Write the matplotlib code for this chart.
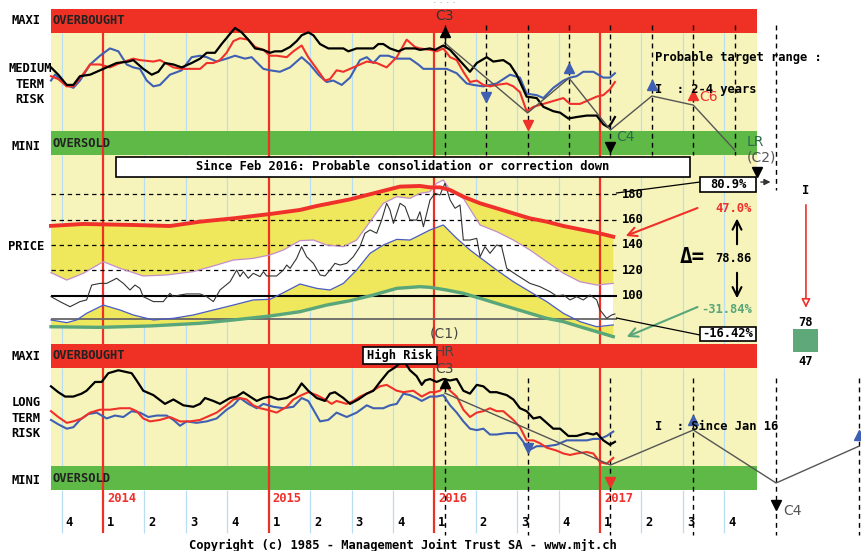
import matplotlib
matplotlib.use("Agg")
import matplotlib.pyplot as plt
import numpy as np
from matplotlib.patches import Rectangle

# ------------------------------------------------------------------
# data  (time in decimal years)
# risk panels: 0 = bottom of OVERSOLD band, 100 = top of OVERBOUGHT band
# ------------------------------------------------------------------
mt_black = np.array([
    (2013.686, 60), (2013.730, 55), (2013.781, 48), (2013.821, 48), (2013.861, 54), (2013.922, 55),
    (2014.002, 59), (2014.082, 63), (2014.153, 64), (2014.183, 65), (2014.243, 59), (2014.294, 55),
    (2014.334, 57), (2014.374, 63), (2014.425, 62), (2014.475, 60), (2014.535, 63), (2014.586, 66),
    (2014.626, 70), (2014.676, 70), (2014.716, 76), (2014.767, 83), (2014.797, 87), (2014.837, 84),
    (2014.877, 79), (2014.918, 73), (2014.968, 72), (2015.008, 70), (2015.038, 71), (2015.078, 71),
    (2015.129, 74), (2015.169, 78), (2015.199, 82), (2015.239, 84), (2015.270, 82), (2015.310, 76),
    (2015.360, 73), (2015.451, 73), (2015.481, 71), (2015.531, 73), (2015.632, 73), (2015.662, 76),
    (2015.692, 76), (2015.732, 73), (2015.783, 71), (2015.823, 73), (2015.883, 73), (2015.913, 72),
    (2015.974, 73), (2016.004, 72), (2016.054, 75), (2016.095, 72), (2016.175, 62), (2016.215, 57),
    (2016.256, 63), (2016.316, 67), (2016.356, 64), (2016.416, 65), (2016.457, 62), (2016.497, 55),
    (2016.557, 40), (2016.618, 39), (2016.658, 33), (2016.718, 30), (2016.759, 29), (2016.809, 25),
    (2016.859, 26), (2016.920, 27), (2016.980, 27), (2017.020, 21), (2017.050, 19), (2017.070, 22),
    (2017.090, 26)])

mt_red = np.array([
    (2013.686, 54), (2013.730, 52), (2013.781, 47), (2013.821, 47), (2013.871, 54), (2013.922, 62),
    (2013.982, 62), (2014.042, 60), (2014.103, 63), (2014.183, 66), (2014.223, 65), (2014.304, 64),
    (2014.344, 65), (2014.425, 60), (2014.475, 59), (2014.535, 59), (2014.586, 59), (2014.626, 63),
    (2014.666, 63), (2014.706, 65), (2014.746, 70), (2014.787, 78), (2014.827, 80), (2014.877, 79),
    (2014.918, 74), (2014.968, 72), (2015.008, 68), (2015.048, 68), (2015.109, 67), (2015.149, 71),
    (2015.199, 75), (2015.239, 67), (2015.290, 59), (2015.340, 51), (2015.370, 52), (2015.410, 58),
    (2015.451, 57), (2015.511, 60), (2015.592, 64), (2015.652, 63), (2015.712, 60), (2015.773, 67),
    (2015.833, 79), (2015.883, 74), (2015.913, 73), (2015.974, 72), (2016.014, 71), (2016.054, 73),
    (2016.095, 67), (2016.135, 65), (2016.175, 57), (2016.215, 50), (2016.256, 51), (2016.296, 48),
    (2016.336, 47), (2016.376, 48), (2016.437, 49), (2016.477, 47), (2016.517, 43), (2016.557, 30),
    (2016.598, 33), (2016.658, 35), (2016.718, 37), (2016.779, 39), (2016.819, 35), (2016.879, 35),
    (2016.940, 38), (2016.980, 40), (2017.020, 41), (2017.060, 45), (2017.090, 50)])

mt_blue = np.array([
    (2013.686, 51), (2013.710, 55), (2013.781, 48), (2013.821, 46), (2013.861, 51), (2013.922, 62),
    (2013.982, 68), (2014.042, 73), (2014.093, 71), (2014.143, 62), (2014.183, 60), (2014.223, 59),
    (2014.264, 51), (2014.304, 47), (2014.344, 48), (2014.404, 55), (2014.475, 58), (2014.535, 67),
    (2014.586, 68), (2014.626, 67), (2014.686, 64), (2014.746, 66), (2014.797, 68), (2014.857, 66),
    (2014.897, 67), (2014.968, 59), (2015.008, 58), (2015.068, 57), (2015.129, 60), (2015.199, 67),
    (2015.249, 62), (2015.300, 55), (2015.350, 50), (2015.390, 51), (2015.441, 48), (2015.491, 53),
    (2015.551, 65), (2015.592, 67), (2015.632, 63), (2015.672, 68), (2015.722, 68), (2015.773, 66),
    (2015.853, 66), (2015.903, 62), (2015.934, 59), (2015.974, 59), (2016.074, 59), (2016.135, 56),
    (2016.195, 49), (2016.235, 48), (2016.296, 47), (2016.336, 48), (2016.376, 49), (2016.457, 55),
    (2016.517, 53), (2016.557, 42), (2016.618, 41), (2016.658, 39), (2016.718, 46), (2016.779, 51),
    (2016.819, 53), (2016.859, 54), (2016.899, 57), (2016.960, 57), (2017.020, 53), (2017.060, 53),
    (2017.090, 56)])

lt_black = np.array([
    (2013.686, 71), (2013.730, 67), (2013.771, 64), (2013.821, 64), (2013.871, 66), (2013.901, 68),
    (2013.952, 74), (2013.992, 74), (2014.032, 80), (2014.093, 82), (2014.133, 81), (2014.173, 80),
    (2014.203, 75), (2014.243, 68), (2014.304, 65), (2014.374, 59), (2014.425, 62), (2014.485, 58),
    (2014.545, 57), (2014.586, 59), (2014.616, 63), (2014.666, 61), (2014.706, 59), (2014.767, 63),
    (2014.807, 64), (2014.847, 67), (2014.887, 64), (2014.928, 61), (2014.968, 63), (2015.008, 64),
    (2015.058, 62), (2015.109, 63), (2015.159, 66), (2015.199, 73), (2015.239, 68), (2015.290, 63),
    (2015.340, 61), (2015.370, 66), (2015.400, 67), (2015.451, 63), (2015.491, 59), (2015.541, 62),
    (2015.592, 66), (2015.632, 68), (2015.672, 74), (2015.722, 81), (2015.763, 84), (2015.793, 87),
    (2015.813, 89), (2015.853, 82), (2015.893, 78), (2015.924, 72), (2015.944, 75), (2015.974, 76),
    (2016.014, 74), (2016.054, 76), (2016.095, 75), (2016.135, 76), (2016.175, 68), (2016.215, 66),
    (2016.256, 72), (2016.296, 71), (2016.336, 67), (2016.376, 67), (2016.437, 65), (2016.477, 62),
    (2016.517, 56), (2016.557, 54), (2016.598, 49), (2016.638, 50), (2016.678, 46), (2016.718, 42),
    (2016.759, 42), (2016.809, 37), (2016.859, 37), (2016.920, 39), (2016.960, 38), (2016.980, 39),
    (2017.020, 34), (2017.060, 31), (2017.090, 33)])

lt_red = np.array([
    (2013.686, 54), (2013.730, 50), (2013.781, 46), (2013.821, 47), (2013.871, 49), (2013.922, 53),
    (2013.982, 55), (2014.042, 55), (2014.103, 56), (2014.163, 56), (2014.203, 54), (2014.243, 49),
    (2014.284, 47), (2014.344, 48), (2014.404, 50), (2014.465, 47), (2014.525, 47), (2014.586, 48),
    (2014.626, 50), (2014.686, 53), (2014.746, 58), (2014.787, 62), (2014.827, 63), (2014.867, 62),
    (2014.907, 58), (2014.948, 56), (2014.988, 55), (2015.048, 53), (2015.109, 57), (2015.149, 62),
    (2015.199, 65), (2015.239, 67), (2015.290, 65), (2015.340, 62), (2015.380, 59), (2015.410, 61),
    (2015.471, 59), (2015.511, 61), (2015.551, 64), (2015.612, 67), (2015.672, 71), (2015.712, 72),
    (2015.773, 68), (2015.813, 67), (2015.873, 68), (2015.924, 64), (2015.974, 67), (2016.004, 67),
    (2016.034, 68), (2016.064, 72), (2016.095, 68), (2016.135, 64), (2016.175, 55), (2016.215, 50),
    (2016.256, 53), (2016.296, 54), (2016.336, 56), (2016.376, 54), (2016.416, 54), (2016.477, 48),
    (2016.517, 43), (2016.557, 34), (2016.598, 34), (2016.638, 32), (2016.678, 29), (2016.738, 27),
    (2016.779, 25), (2016.819, 24), (2016.859, 25), (2016.920, 26), (2016.960, 25), (2017.000, 19),
    (2017.040, 18), (2017.080, 22)])

lt_blue = np.array([
    (2013.686, 48), (2013.730, 45), (2013.781, 42), (2013.821, 43), (2013.861, 48), (2013.911, 52),
    (2013.962, 53), (2014.022, 49), (2014.072, 51), (2014.123, 50), (2014.173, 54), (2014.223, 53),
    (2014.274, 50), (2014.324, 51), (2014.384, 51), (2014.425, 48), (2014.465, 44), (2014.505, 47),
    (2014.565, 46), (2014.626, 47), (2014.686, 49), (2014.746, 55), (2014.787, 58), (2014.827, 63),
    (2014.877, 59), (2014.928, 56), (2014.968, 59), (2015.028, 57), (2015.089, 56), (2015.149, 57),
    (2015.199, 63), (2015.239, 61), (2015.270, 55), (2015.310, 47), (2015.360, 48), (2015.410, 53),
    (2015.471, 50), (2015.531, 53), (2015.592, 58), (2015.632, 56), (2015.692, 56), (2015.732, 58),
    (2015.773, 59), (2015.813, 66), (2015.853, 65), (2015.893, 63), (2015.924, 61), (2015.974, 64),
    (2016.014, 64), (2016.054, 65), (2016.095, 58), (2016.135, 53), (2016.175, 47), (2016.215, 42),
    (2016.256, 41), (2016.296, 42), (2016.336, 38), (2016.376, 38), (2016.437, 39), (2016.497, 39),
    (2016.537, 33), (2016.567, 27), (2016.618, 30), (2016.678, 30), (2016.738, 31), (2016.799, 34),
    (2016.859, 34), (2016.920, 34), (2016.960, 35), (2017.000, 35), (2017.040, 37), (2017.080, 40)])

# price panel
price = np.array([
    (2013.686, 99.5), (2013.740, 95.6), (2013.801, 91.6), (2013.861, 95.6), (2013.901, 96.9),
    (2013.932, 108.6), (2013.982, 109.9), (2014.022, 109.9), (2014.062, 112.5), (2014.082, 113.9),
    (2014.123, 109.9), (2014.163, 104.7), (2014.193, 108.6), (2014.223, 106.0), (2014.243, 99.5),
    (2014.304, 95.6), (2014.364, 95.6), (2014.404, 102.1), (2014.425, 99.5), (2014.465, 100.8),
    (2014.505, 101.6), (2014.586, 101.6), (2014.626, 99.5), (2014.666, 95.6), (2014.706, 104.7),
    (2014.767, 111.2), (2014.807, 120.4), (2014.827, 115.2), (2014.847, 119.1), (2014.877, 113.9),
    (2014.907, 117.8), (2014.948, 115.2), (2014.968, 119.1), (2014.988, 115.7), (2015.048, 115.7),
    (2015.089, 120.4), (2015.109, 124.3), (2015.129, 121.7), (2015.169, 129.5), (2015.199, 138.7),
    (2015.229, 130.8), (2015.270, 125.6), (2015.310, 116.5), (2015.340, 115.7), (2015.370, 120.4),
    (2015.400, 125.6), (2015.431, 124.3), (2015.471, 125.6), (2015.511, 130.8), (2015.551, 138.7),
    (2015.581, 149.2), (2015.612, 151.8), (2015.652, 149.2), (2015.682, 159.6), (2015.712, 172.7),
    (2015.732, 167.5), (2015.753, 157.0), (2015.773, 164.8), (2015.793, 172.7), (2015.823, 170.1),
    (2015.853, 159.6), (2015.893, 159.6), (2015.913, 166.1), (2015.934, 154.4), (2015.964, 170.1),
    (2015.974, 175.3), (2016.004, 180.5), (2016.034, 179.2), (2016.064, 188.4), (2016.095, 175.3),
    (2016.125, 168.8), (2016.155, 171.4), (2016.175, 143.9), (2016.215, 143.9), (2016.256, 145.2),
    (2016.276, 130.8), (2016.306, 138.7), (2016.336, 133.5), (2016.376, 140.0), (2016.406, 138.7),
    (2016.437, 121.7), (2016.497, 116.5), (2016.577, 109.9), (2016.638, 107.3), (2016.698, 103.4),
    (2016.738, 100.0), (2016.779, 100.8), (2016.819, 96.9), (2016.859, 99.5), (2016.899, 96.9),
    (2016.940, 100.8), (2016.980, 96.9), (2017.000, 89.0), (2017.040, 82.5), (2017.070, 85.1),
    (2017.090, 85.9)])

band_top = np.array([
    (2013.686, 155.0), (2013.881, 156.5), (2014.183, 155.7), (2014.404, 154.9), (2014.586, 158.3),
    (2014.787, 160.9), (2015.008, 164.3), (2015.189, 167.5), (2015.290, 170.6), (2015.491, 175.8),
    (2015.672, 181.8), (2015.793, 185.8), (2015.913, 186.3), (2015.974, 185.2), (2016.034, 185.2),
    (2016.095, 183.1), (2016.175, 177.9), (2016.276, 172.7), (2016.376, 168.8), (2016.477, 164.8),
    (2016.577, 160.9), (2016.678, 158.3), (2016.779, 154.9), (2016.879, 152.3), (2016.980, 149.7),
    (2017.080, 146.5)])

band_upper = np.array([
    (2013.686, 118.3), (2013.781, 112.5), (2013.881, 117.8), (2014.002, 126.9), (2014.103, 121.7),
    (2014.243, 115.7), (2014.384, 116.5), (2014.545, 119.1), (2014.686, 124.3), (2014.787, 128.2),
    (2014.907, 129.5), (2015.008, 132.2), (2015.089, 136.1), (2015.189, 143.4), (2015.270, 143.9),
    (2015.350, 140.0), (2015.451, 138.7), (2015.531, 143.9), (2015.612, 158.3), (2015.692, 172.7),
    (2015.773, 177.9), (2015.853, 176.6), (2015.913, 180.5), (2015.974, 181.8), (2016.014, 188.4),
    (2016.054, 191.0), (2016.095, 183.1), (2016.175, 176.6), (2016.276, 155.7), (2016.376, 150.5),
    (2016.477, 143.9), (2016.577, 136.1), (2016.678, 126.9), (2016.779, 117.8), (2016.879, 111.2),
    (2016.980, 108.6), (2017.080, 109.9)])

band_lower = np.array([
    (2013.686, 81.2), (2013.781, 79.1), (2013.841, 81.2), (2013.901, 86.4), (2014.002, 92.9),
    (2014.103, 89.0), (2014.183, 85.1), (2014.304, 81.2), (2014.425, 82.5), (2014.545, 85.1),
    (2014.666, 89.0), (2014.787, 92.9), (2014.907, 96.9), (2015.008, 97.4), (2015.089, 102.6),
    (2015.189, 109.4), (2015.290, 106.0), (2015.370, 104.7), (2015.451, 109.9), (2015.531, 120.4),
    (2015.612, 133.5), (2015.692, 140.0), (2015.773, 144.4), (2015.853, 143.9), (2015.913, 147.8),
    (2015.974, 151.8), (2016.054, 155.7), (2016.135, 145.2), (2016.215, 136.1), (2016.296, 128.2),
    (2016.376, 120.4), (2016.477, 111.2), (2016.577, 103.4), (2016.678, 95.6), (2016.779, 86.4),
    (2016.879, 79.9), (2016.980, 75.9), (2017.080, 77.3)])

band_bottom = np.array([
    (2013.686, 75.9), (2013.982, 75.4), (2014.284, 76.5), (2014.586, 78.6), (2014.787, 81.2),
    (2015.008, 84.3), (2015.189, 87.7), (2015.350, 92.9), (2015.491, 96.3), (2015.632, 100.8),
    (2015.773, 106.0), (2015.913, 107.3), (2015.974, 106.8), (2016.074, 104.7), (2016.175, 102.1),
    (2016.276, 98.2), (2016.376, 94.2), (2016.477, 90.3), (2016.577, 86.4), (2016.678, 82.5),
    (2016.779, 79.9), (2016.879, 75.9), (2016.980, 72.0), (2017.080, 68.1)])

price_levels = [180, 160, 140, 120]
price_ref = 100
price_low = 82

# cycle projections (time, level)
mt_cycle = np.array([(2016.063, 76.7), (2016.563, 28.8), (2016.813, 52.7), (2017.063, 17.1),
                     (2017.313, 40.4), (2017.563, 34.2), (2017.813, 3.4)])
lt_cycle = np.array([(2016.063, 66.4), (2017.063, 17.1), (2017.563, 41.1), (2018.063, 4.8),
                     (2018.563, 30.0)])

years = [2014, 2015, 2016, 2017]
quarters = np.arange(2013.75, 2017.76, 0.25)
quarter_labels = ["4", "1", "2", "3", "4", "1", "2", "3", "4", "1", "2", "3", "4", "1", "2", "3", "4"]

# ------------------------------------------------------------------
RED = "#ee3124"
BG = "#f6f4ba"
GREEN = "#5fb946"
FILL = "#efe75c"
LBLUE = "#b9ddf3"
BLUE = "#3f5fb2"
LRED = "#f0302a"
TEAL = "#58a67a"
GRAY = "#555555"
MONO = "DejaVu Sans Mono"
SANS = "DejaVu Sans"

plt.rcParams["font.family"] = MONO
plt.rcParams["font.weight"] = "bold"
plt.rcParams["font.size"] = 8.7

W, H = 862, 551
X_START, X_END = 2013.686, 2017.948
XLIM = (2014 - 103 / 165.67, 2014 + (W - 103) / 165.67)

fig = plt.figure(figsize=(W / 100, H / 100), dpi=100)


def panel(top, bottom, z):
    ax = fig.add_axes([0, 1 - bottom / H, 1, (bottom - top) / H])
    ax.set_xlim(*XLIM)
    ax.set_axis_off()
    ax.set_zorder(z)
    return ax


def risk_panel(ax):
    ax.set_ylim(0, 100)
    ax.fill_between([X_START, X_END], 0, 100, color=BG, lw=0, zorder=0)
    ax.vlines([q for q in quarters if q % 1], 16.4, 83.6, color=LBLUE, lw=0.9, zorder=1)
    ax.fill_between([X_START, X_END], 83.6, 100, color=RED, lw=0, zorder=2)
    ax.fill_between([X_START, X_END], 0, 16.4, color=GREEN, lw=0, zorder=2)
    ax.vlines(years, 0, 100, color=RED, lw=1.6, zorder=3)
    ax.text(2013.698, 91.8, "OVERBOUGHT", ha="left", va="center", color="#222222", zorder=4)
    ax.text(2013.698, 8.2, "OVERSOLD", ha="left", va="center", color="#222222", zorder=4)


def tri(ax, x, y, m, c):
    ax.plot(x, y, marker=m, ms=7.5, color=c, ls="none", zorder=7, clip_on=False)


def gtext(ax, x, y, s, c="#444444", ha="center", size=10):
    ax.text(x, y, s, ha=ha, va="center", color=c, family=SANS, weight="normal",
            fontsize=size, zorder=8)


dash = (0, (3.5, 3))

# ------------------------- medium term risk -------------------------
ax1 = panel(9, 155, 4)
risk_panel(ax1)
for k in range(9):
    lo = -24 if k == 8 else 0
    ax1.plot([2016.063 + 0.25 * k] * 2, [89, lo], color="black", lw=1.0, ls=dash,
             zorder=4, clip_on=False)
ax1.plot(mt_blue[:, 0], mt_blue[:, 1], color=BLUE, lw=1.5, zorder=5)
ax1.plot(mt_red[:, 0], mt_red[:, 1], color=LRED, lw=1.5, zorder=5)
ax1.plot(mt_black[:, 0], mt_black[:, 1], color="black", lw=1.6, zorder=5)
ax1.plot(mt_cycle[:, 0], mt_cycle[:, 1], color=GRAY, lw=1.0, zorder=6, clip_on=False)
ax1.plot([2016.063, 2016.063], [84, 77], color="black", lw=1.0, zorder=6)
tri(ax1, 2016.063, 84.2, "^", "black")
tri(ax1, 2016.313, 39.9, "v", BLUE)
tri(ax1, 2016.563, 20.5, "v", LRED)
tri(ax1, 2016.813, 59.4, "^", BLUE)
tri(ax1, 2017.063, 5.7, "v", "black")
tri(ax1, 2017.313, 47.9, "^", BLUE)
tri(ax1, 2017.563, 41.1, "^", LRED)
tri(ax1, 2017.948, -11.6, "v", "black")
gtext(ax1, 2016.063, 95.2, "C3", "#333333")
ax1.text(2016.060, 104.2, "- - - -", ha="center", va="center", color="#777777",
         fontsize=4, weight="normal")
gtext(ax1, 2017.100, 12.3, "C4", "#2f6a4e", ha="left")
gtext(ax1, 2017.598, 39.7, "C6", LRED, ha="left")
gtext(ax1, 2017.887, 8.9, "LR", "#2f6a4e", ha="left")
gtext(ax1, 2017.887, -2.0, "(C2)", "#555555", ha="left")
ax1.annotate("", xy=(2018.046, -18.5), xytext=(2017.954, -18.5), annotation_clip=False,
             arrowprops=dict(arrowstyle="-|>", color="#333333", lw=1.0, mutation_scale=9))
ax1.text(2017.332, 67.1, "Probable target range :", ha="left", va="center", zorder=8)
ax1.text(2017.332, 45.0, "I  : 2-4 years", ha="left", va="center", zorder=8)

# ------------------------------ price ------------------------------
ax2 = panel(155, 344, 3)
ax2.set_ylim(62.35, 210.59)
ax2.fill_between([X_START, X_END], 62.35, 210.59, color=BG, lw=0, zorder=0)
ax2.vlines([q for q in quarters if q % 1], 62.35, 210.59, color=LBLUE, lw=0.9, zorder=1)
ax2.fill(np.r_[band_top[:, 0], band_bottom[::-1, 0]], np.r_[band_top[:, 1], band_bottom[::-1, 1]],
         color=FILL, lw=0, zorder=2)
ax2.fill(np.r_[band_upper[:, 0], band_lower[::-1, 0]], np.r_[band_upper[:, 1], band_lower[::-1, 1]],
         color="white", lw=0, zorder=2)
ax2.vlines(years, 62.35, 210.59, color=RED, lw=1.6, zorder=3)
ax2.hlines(price_levels, X_START, 2017.10, color="black", lw=0.9, linestyles=[dash], zorder=4)
ax2.hlines(price_ref, X_START, 2017.10, color="black", lw=1.5, zorder=4)
ax2.hlines(price_low, X_START, 2017.10, color="#666666", lw=1.3, zorder=4)
ax2.plot(band_upper[:, 0], band_upper[:, 1], color="#c48ccc", lw=0.9, zorder=5)
ax2.plot(band_lower[:, 0], band_lower[:, 1], color="#4a5cc4", lw=0.9, zorder=5)
ax2.plot(price[:, 0], price[:, 1], color="#333333", lw=0.8, zorder=5)
ax2.plot(band_top[:, 0], band_top[:, 1], color=LRED, lw=2.8, zorder=6)
ax2.plot(band_bottom[:, 0], band_bottom[:, 1], color=TEAL, lw=2.4, zorder=6)
for lv in price_levels + [price_ref]:
    ax2.text(2017.133, lv, str(lv), ha="left", va="center", zorder=8)

ax2.add_patch(Rectangle((2014.078, 193.3), 3.465, 15.7, fc="white", ec="black", lw=1.2,
                        zorder=9, clip_on=False))
ax2.text(2015.811, 201.2, "Since Feb 2016: Probable consolidation or correction down",
         ha="center", va="center", zorder=10)

ax2.add_patch(Rectangle((2017.604, 181.6), 0.338, 11.7, fc="white", ec="black", lw=1.2,
                        zorder=9, clip_on=False))
ax2.text(2017.773, 187.4, "80.9%", ha="center", va="center", zorder=10)
ax2.plot([2017.10, 2017.604], [180.8, 189.4], color="black", lw=0.9, zorder=8, clip_on=False)
ax2.add_patch(Rectangle((2017.604, 64.9), 0.338, 11.0, fc="white", ec="black", lw=1.2,
                        zorder=9, clip_on=False))
ax2.text(2017.773, 70.4, "-16.42%", ha="center", va="center", zorder=10)
ax2.plot([2017.10, 2017.604], [82.7, 69.4], color="black", lw=0.9, zorder=8, clip_on=False)

ax2.annotate("", xy=(2017.139, 146.3), xytext=(2017.604, 169.8), annotation_clip=False,
             arrowprops=dict(arrowstyle="->", color=LRED, lw=1.5, mutation_scale=16))
ax2.annotate("", xy=(2017.145, 67.1), xytext=(2017.604, 92.2), annotation_clip=False,
             arrowprops=dict(arrowstyle="->", color=TEAL, lw=1.5, mutation_scale=16))
ax2.text(2017.918, 169.0, "47.0%", ha="right", va="center", color=LRED, zorder=8)
ax2.text(2017.918, 89.8, "-31.84%", ha="right", va="center", color=TEAL, zorder=8)
ax2.text(2017.483, 130.6, "\u0394=", ha="left", va="center", fontsize=15, zorder=8)
ax2.text(2017.803, 129.8, "78.86", ha="center", va="center", zorder=8)
ax2.annotate("", xy=(2017.827, 163), xytext=(2017.827, 138.4), annotation_clip=False,
             arrowprops=dict(arrowstyle="->", color="black", lw=1.5, mutation_scale=16))
ax2.annotate("", xy=(2017.827, 96.0), xytext=(2017.827, 120.4), annotation_clip=False,
             arrowprops=dict(arrowstyle="->", color="black", lw=1.5, mutation_scale=16))

ax2.text(2018.243, 182.4, "I", ha="center", va="center", zorder=8)
ax2.annotate("", xy=(2018.243, 88.5), xytext=(2018.243, 173.7), annotation_clip=False,
             arrowprops=dict(arrowstyle="-|>", fc="white", ec=LRED, lw=1.2, mutation_scale=13))
ax2.text(2018.243, 79.6, "78", ha="center", va="center", zorder=8)
ax2.bar(2018.243, 18.0, bottom=56.1, width=0.151, color="#5fa87a", zorder=8, clip_on=False)
ax2.text(2018.243, 49.0, "47", ha="center", va="center", zorder=8)
gtext(ax2, 2016.063, 70.2, "(C1)", "#444444")

# ------------------------- long term risk -------------------------
ax3 = panel(344, 490, 2)
risk_panel(ax3)
for k in range(6):
    ax3.plot([2016.063 + 0.5 * k] * 2, [76.7, -30.8], color="black", lw=1.0, ls=dash,
             zorder=4, clip_on=False)
ax3.plot(lt_blue[:, 0], lt_blue[:, 1], color=BLUE, lw=1.5, zorder=5)
ax3.plot(lt_red[:, 0], lt_red[:, 1], color=LRED, lw=1.5, zorder=5)
ax3.plot(lt_black[:, 0], lt_black[:, 1], color="black", lw=1.6, zorder=5)
ax3.plot(lt_cycle[:, 0], lt_cycle[:, 1], color=GRAY, lw=1.0, zorder=6, clip_on=False)
tri(ax3, 2016.063, 73.3, "^", "black")
tri(ax3, 2016.563, 28.8, "v", BLUE)
tri(ax3, 2017.063, 5.5, "v", LRED)
tri(ax3, 2017.563, 47.9, "^", BLUE)
tri(ax3, 2018.063, -10.3, "v", "black")
tri(ax3, 2018.563, 37.7, "^", BLUE)
gtext(ax3, 2018.104, -14.4, "C4", "#555555", ha="left")
gtext(ax3, 2016.063, 94.5, "HR", "#444444")
gtext(ax3, 2016.063, 83.2, "C3", "#444444")
ax3.add_patch(Rectangle((2015.569, 86.3), 0.447, 11.6, fc="white", ec="black", lw=1.2, zorder=7))
ax3.text(2015.793, 92.1, "High Risk", ha="center", va="center", zorder=8)
ax3.text(2017.332, 43.8, "I  : Since Jan 16", ha="left", va="center", zorder=8)

# ------------------------------ time axis ------------------------------
ax4 = panel(490, 535, 1)
ax4.set_ylim(0, 1)
ax4.vlines([q for q in quarters if q % 1], 0.04, 1, color=LBLUE, lw=0.9)
ax4.vlines(years, 0.04, 1, color=RED, lw=1.6)
for y in years:
    ax4.text(y + 0.025, 0.82, str(y), ha="left", va="center", color=LRED)
for q, lab in zip(quarters, quarter_labels):
    ax4.text(q + 0.046, 0.27, lab, ha="center", va="center")

# ------------------------------ left labels ------------------------------
def ftext(x, y, s, **kw):
    fig.text(x / W, 1 - y / H, s, ha="center", va="center", **kw)


ftext(26, 20, "MAXI")
ftext(30, 84, "MEDIUM\nTERM\nRISK", linespacing=1.25)
ftext(26, 147, "MINI")
ftext(26, 246, "PRICE")
ftext(26, 356, "MAXI")
ftext(26, 418, "LONG\nTERM\nRISK", linespacing=1.25)
ftext(26, 481, "MINI")
ftext(403, 545, "Copyright (c) 1985 - Management Joint Trust SA - www.mjt.ch")

fig.savefig("out.png", dpi=100)
